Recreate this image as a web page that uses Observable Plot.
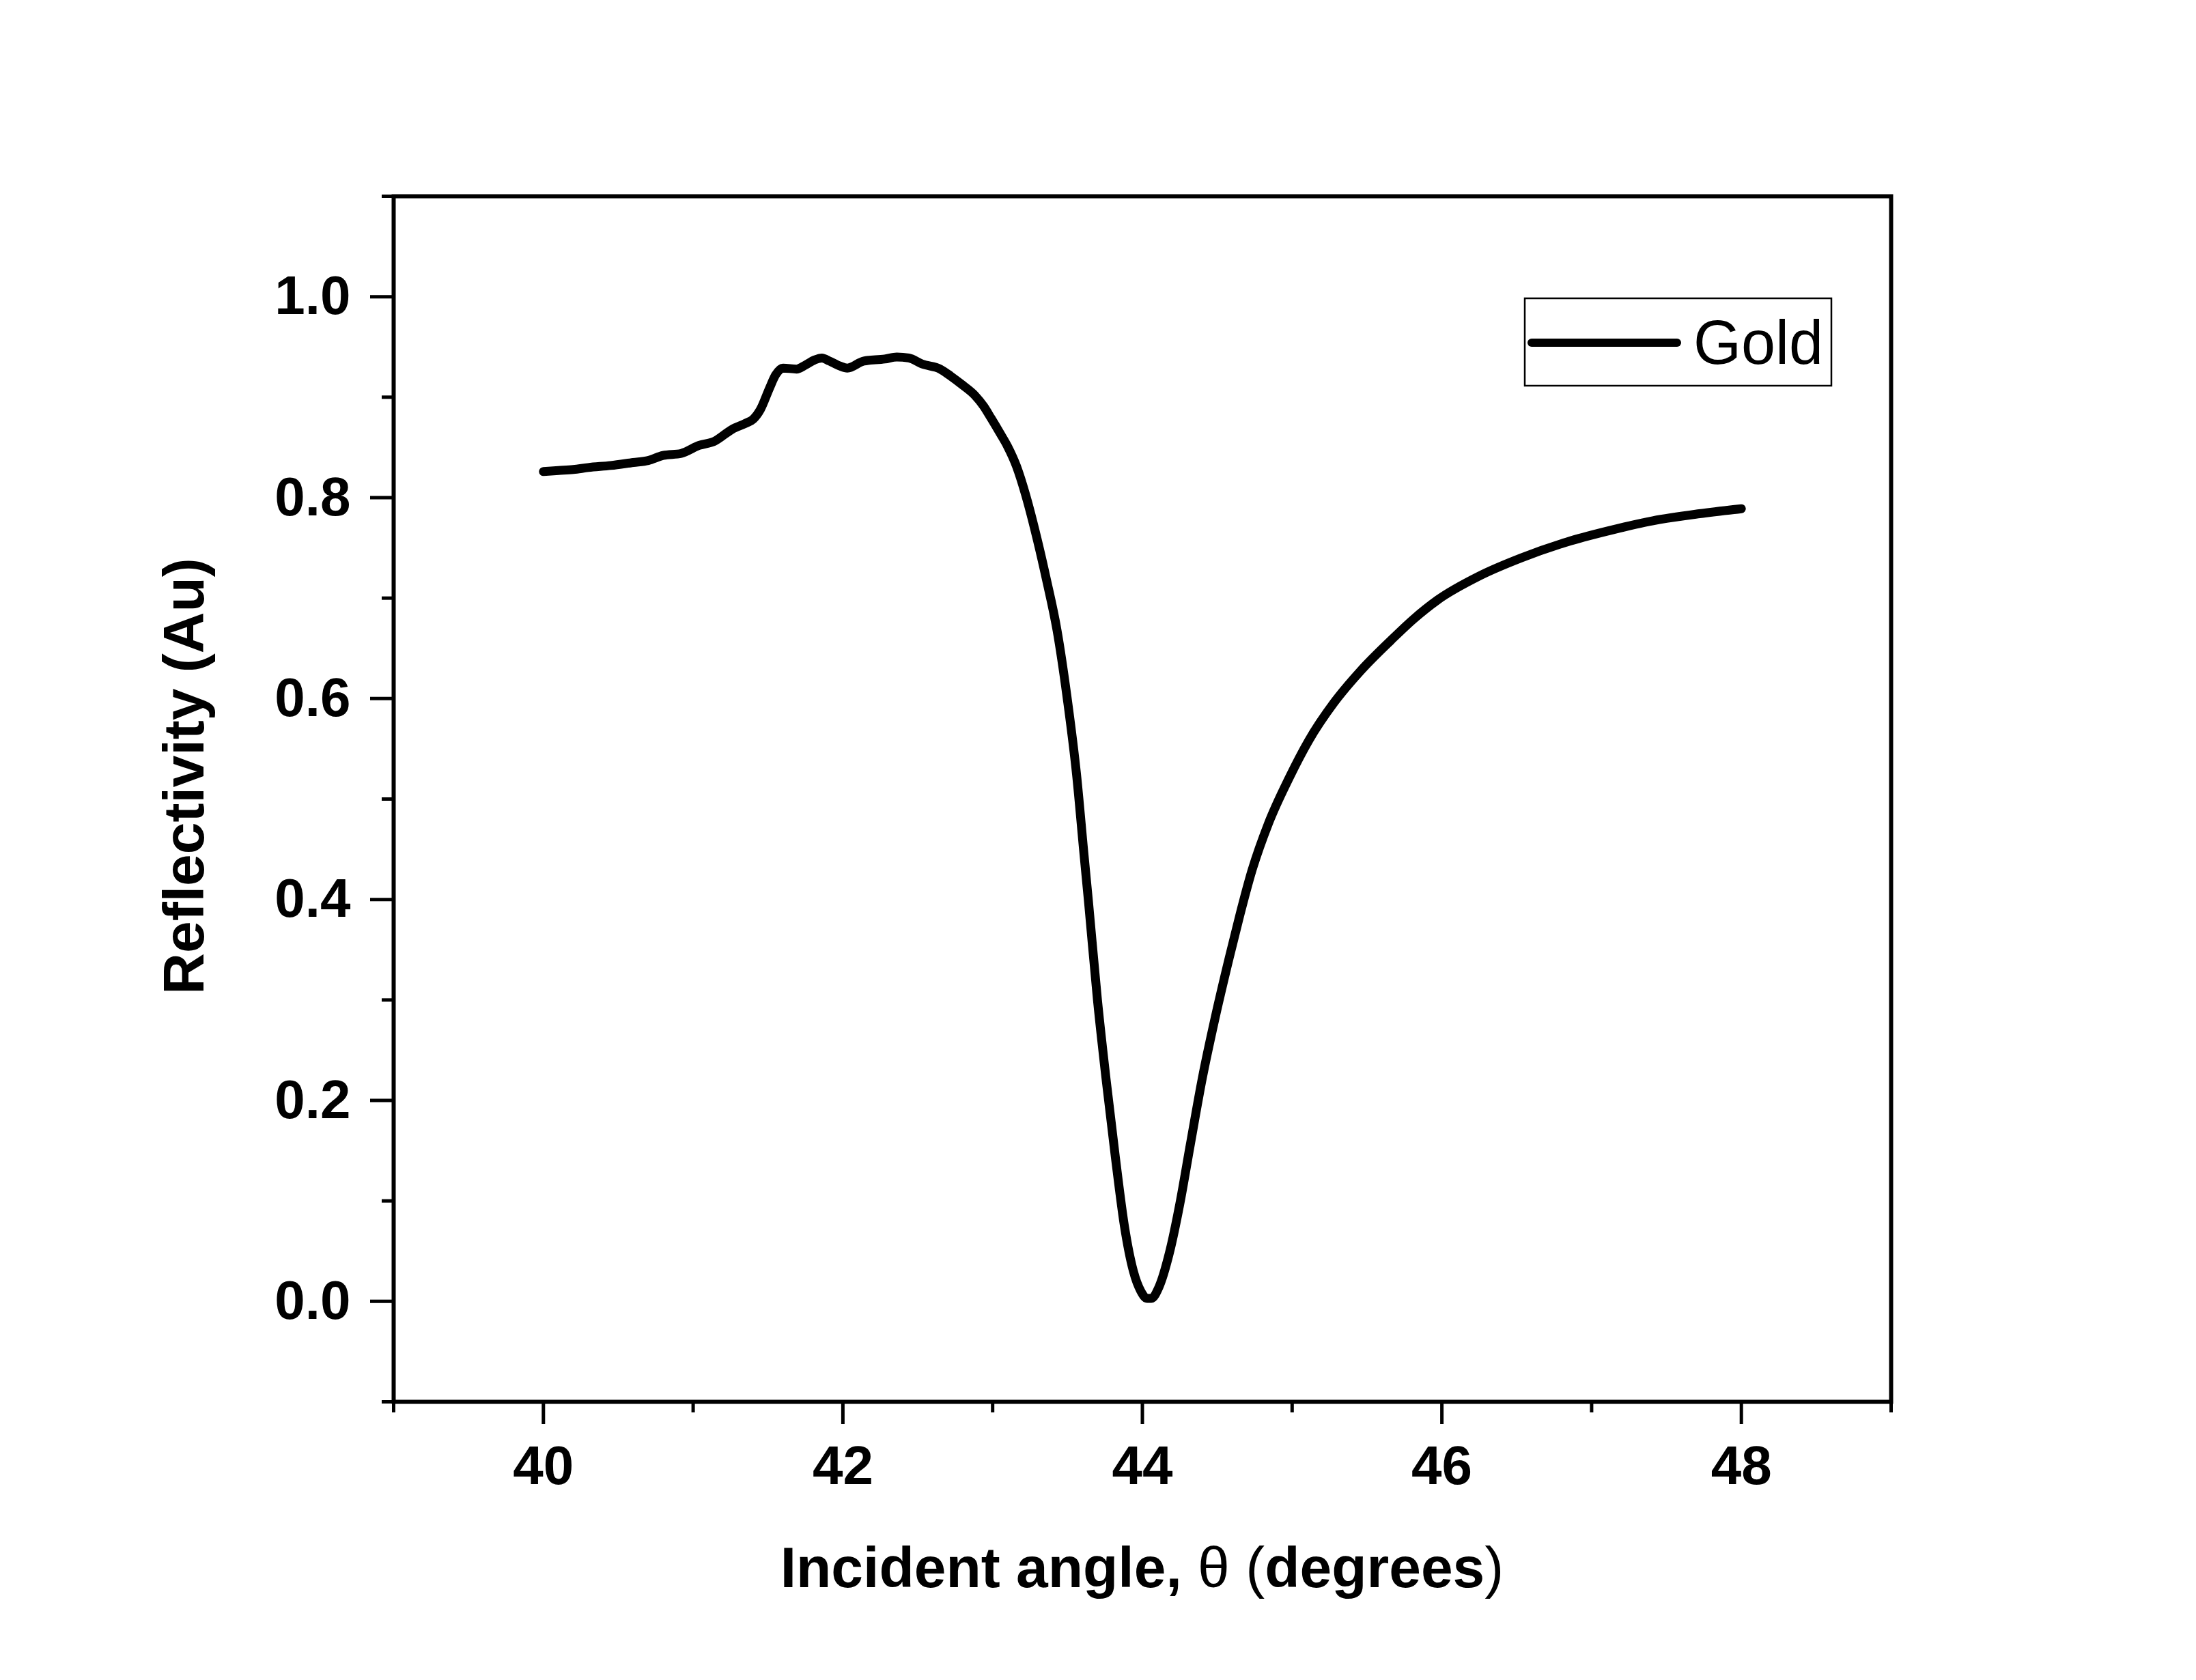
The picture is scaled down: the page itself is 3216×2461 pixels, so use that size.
<!DOCTYPE html>
<html>
<head>
<meta charset="utf-8">
<script src="https://cdn.jsdelivr.net/npm/d3@7"></script>
<script src="https://cdn.jsdelivr.net/npm/@observablehq/plot@0.6"></script>
<style>
  html, body { margin: 0; padding: 0; background: #fff; }
  #chart svg { display: block; }
</style>
</head>
<body>
<div id="chart"></div>
<script>
// ---- data ----
const angle = [
  40.00, 40.10, 40.20, 40.30, 40.45, 40.60, 40.70, 40.80, 40.92, 41.04,
  41.14, 41.26, 41.35, 41.40, 41.45, 41.51, 41.55, 41.60, 41.69, 41.75,
  41.81, 41.86, 41.91, 41.98, 42.03, 42.14, 42.28, 42.36, 42.44, 42.53,
  42.65, 42.72, 42.80, 42.88, 42.94, 42.99, 43.05, 43.10, 43.16, 43.22,
  43.30, 43.36, 43.43, 43.50, 43.56, 43.61, 43.64, 43.70, 43.76, 43.82,
  43.88, 43.94, 43.99, 44.03, 44.06, 44.11, 44.18, 44.25, 44.32, 44.40,
  44.49, 44.58, 44.65, 44.73, 44.84, 44.98, 45.11, 45.28, 45.46, 45.66,
  45.81, 45.97, 46.25, 46.53, 46.86, 47.14, 47.41, 47.72, 48.00
];
const reflectivity = [
  0.826, 0.827, 0.828, 0.830, 0.832, 0.835, 0.837, 0.842, 0.844, 0.852,
  0.856, 0.868, 0.874, 0.878, 0.888, 0.909, 0.922, 0.929, 0.928, 0.932,
  0.937, 0.939, 0.936, 0.931, 0.929, 0.936, 0.938, 0.940, 0.939, 0.933,
  0.928, 0.921, 0.912, 0.902, 0.891, 0.879, 0.864, 0.851, 0.831, 0.803,
  0.757, 0.718, 0.668, 0.598, 0.525, 0.445, 0.398, 0.300, 0.218, 0.143,
  0.075, 0.030, 0.010, 0.003, 0.003, 0.014, 0.048, 0.097, 0.156, 0.222,
  0.285, 0.342, 0.384, 0.428, 0.475, 0.521, 0.558, 0.596, 0.628, 0.658,
  0.679, 0.698, 0.722, 0.740, 0.757, 0.768, 0.777, 0.784, 0.789
];
const xMajorTicks = [40, 42, 44, 46, 48];
const xMinorTicks = [39, 41, 43, 45, 47, 49];
const yMajorTicks = [0.0, 0.2, 0.4, 0.6, 0.8, 1.0];
const yMinorTicks = [-0.1, 0.1, 0.3, 0.5, 0.7, 0.9, 1.1];
const xDomain = [39, 49];
const yDomain = [-0.1, 1.1];
const seriesName = "Gold";
const xTitleParts = [
  {t: "Incident angle, ", w: "bold"},
  {t: "\u03B8", w: "normal"},
  {t: " ", w: "bold"},
  {t: "(", w: "normal"},
  {t: "degrees", w: "bold"},
  {t: ")", w: "normal"}
];
const yTitle = "Reflectivity (Au)";

const data = angle.map((a, i) => ({angle: a, r: reflectivity[i]}));

const FONT = "'Liberation Sans', Arial, Helvetica, sans-serif";

const plot = Plot.plot({
  width: 3216,
  height: 2461,
  marginLeft: 576,
  marginRight: 447,
  marginTop: 287,
  marginBottom: 408,
  style: {fontFamily: FONT, fontSize: "80px", fontWeight: "bold", background: "#fff", color: "#000", overflow: "visible"},
  x: {domain: xDomain, label: null},
  y: {domain: yDomain, label: null},
  marks: [
    Plot.axisX({ticks: xMinorTicks, tickSize: 16, strokeWidth: 5, tickFormat: () => "", label: null}),
    Plot.axisX({ticks: xMajorTicks, tickSize: 33, strokeWidth: 5, tickPadding: 31, tickFormat: d => String(d), label: null, fontWeight: "bold"}),
    Plot.axisY({ticks: yMinorTicks, tickSize: 17, strokeWidth: 5, tickFormat: () => "", label: null}),
    Plot.axisY({ticks: yMajorTicks, tickSize: 34, strokeWidth: 5, tickPadding: 29, tickFormat: d3.format(".1f"), label: null, fontWeight: "bold"}),
    Plot.line(data, {x: "angle", y: "r", stroke: "#000", strokeWidth: 13, curve: "monotone-x", strokeLinecap: "round", strokeLinejoin: "round"}),
    Plot.frame({stroke: "#000", strokeWidth: 6})
  ]
});

document.getElementById("chart").appendChild(plot);

// ---- axis titles and legend ----
const svg = d3.select(plot);
const sx = plot.scale("x"), sy = plot.scale("y");
const fLeft = sx.apply(xDomain[0]), fRight = sx.apply(xDomain[1]);
const fTop = sy.apply(yDomain[1]), fBottom = sy.apply(yDomain[0]);

const xt = svg.append("text")
  .attr("x", (fLeft + fRight) / 2)
  .attr("y", fBottom + 272)
  .attr("text-anchor", "middle")
  .attr("font-family", FONT)
  .attr("font-size", 84)
  .attr("fill", "#000");
xTitleParts.forEach(p => {
  xt.append("tspan").attr("font-weight", p.w).text(p.t);
});

svg.append("text")
  .attr("transform", `translate(${fLeft - 278},${(fTop + fBottom) / 2 - 33}) rotate(-90)`)
  .attr("text-anchor", "middle")
  .attr("font-family", FONT)
  .attr("font-size", 84)
  .attr("font-weight", "bold")
  .attr("fill", "#000")
  .text(yTitle);

// legend box (inside the frame, top-right)
const lg = svg.append("g");
const lgX = fRight - 536, lgY = fTop + 150, lgW = 449, lgH = 128;
lg.append("rect")
  .attr("x", lgX).attr("y", lgY).attr("width", lgW).attr("height", lgH)
  .attr("fill", "#fff").attr("stroke", "#000").attr("stroke-width", 2.5);
lg.append("line")
  .attr("x1", lgX + 10).attr("x2", lgX + 223)
  .attr("y1", lgY + 65).attr("y2", lgY + 65)
  .attr("stroke", "#000").attr("stroke-width", 12).attr("stroke-linecap", "round");
lg.append("text")
  .attr("x", lgX + 247).attr("y", lgY + 96)
  .attr("text-anchor", "start")
  .attr("font-family", FONT).attr("font-size", 90).attr("font-weight", "normal")
  .attr("fill", "#000")
  .text(seriesName);
</script>
</body>
</html>
